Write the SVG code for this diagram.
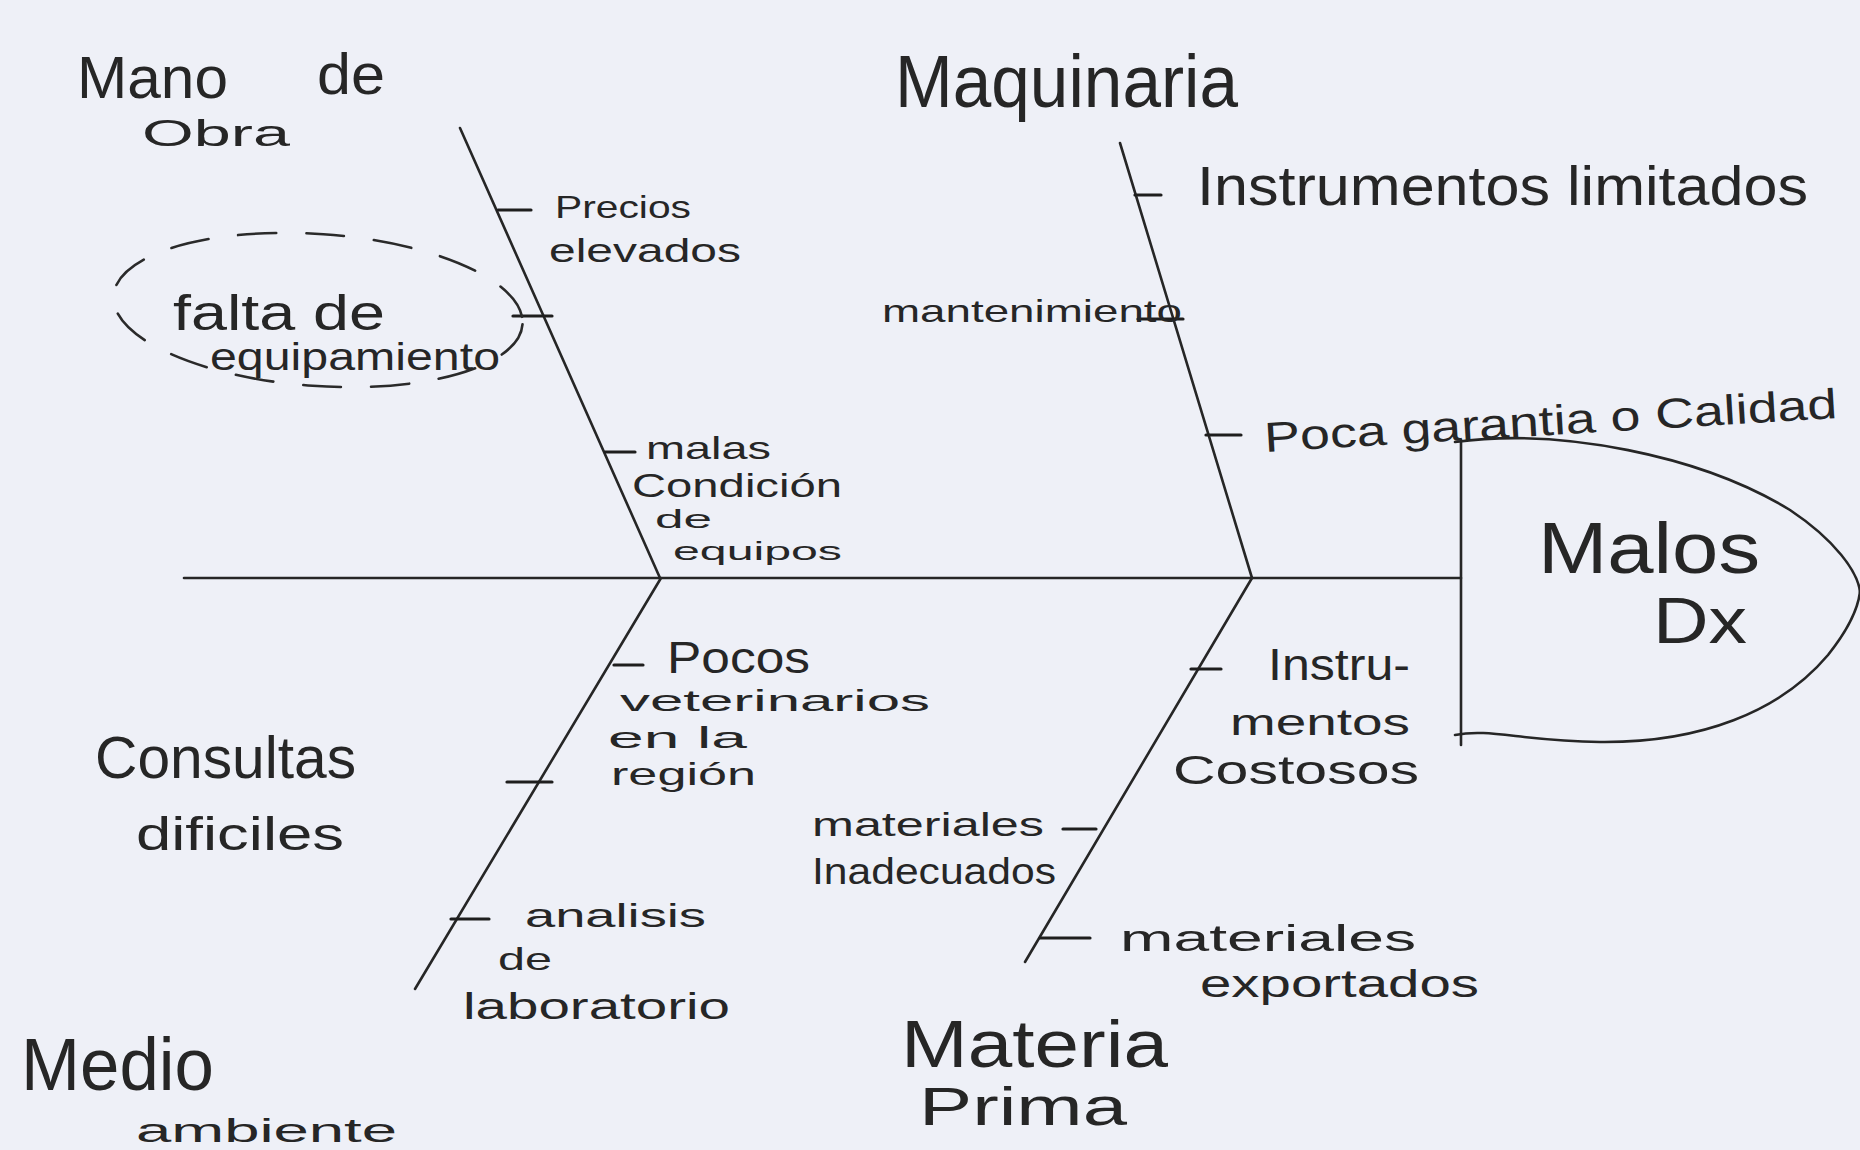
<svg xmlns="http://www.w3.org/2000/svg" width="1860" height="1150" viewBox="0 0 1860 1150">
<style>
.ln{stroke:#262626;stroke-width:2.6;fill:none;stroke-linecap:round}
.tk{stroke:#1e1e1e;stroke-width:3.2;fill:none;stroke-linecap:round}
.t{font-family:"Liberation Sans","DejaVu Sans",sans-serif;fill:#262626;font-weight:normal}
.dash{stroke:#2a2a2a;stroke-width:2.6;fill:none;stroke-dasharray:38 30;stroke-linecap:round}
</style>
<rect width="1860" height="1150" fill="#eef0f7"/>
<g id="connectors">
<line class="ln" x1="184" y1="578" x2="1461" y2="578"/>
<line class="ln" x1="460" y1="128" x2="660" y2="578"/>
<line class="ln" x1="1120" y1="143" x2="1252" y2="578"/>
<line class="ln" x1="661" y1="578" x2="415" y2="989"/>
<line class="ln" x1="1252" y1="578" x2="1025" y2="962"/>
<line class="tk" x1="498" y1="210" x2="531" y2="210"/>
<line class="tk" x1="513" y1="316" x2="552" y2="316"/>
<line class="tk" x1="605" y1="452" x2="635" y2="452"/>
<line class="tk" x1="1135" y1="195" x2="1161" y2="195"/>
<line class="tk" x1="1138" y1="319" x2="1183" y2="319"/>
<line class="tk" x1="1206" y1="435" x2="1241" y2="435"/>
<line class="tk" x1="614" y1="665" x2="643" y2="665"/>
<line class="tk" x1="507" y1="782" x2="552" y2="782"/>
<line class="tk" x1="451" y1="919" x2="489" y2="919"/>
<line class="tk" x1="1191" y1="669" x2="1221" y2="669"/>
<line class="tk" x1="1063" y1="829" x2="1096" y2="829"/>
<line class="tk" x1="1040" y1="938" x2="1090" y2="938"/>
</g>
<g id="head">
<line class="ln" x1="1461" y1="440" x2="1461" y2="745"/>
<path class="ln" d="M1455,442 C1560,428 1700,455 1790,510 C1835,540 1858,572 1860,592"/>
<path class="ln" d="M1455,735 C1490,728 1520,741 1600,742 C1700,743 1780,712 1828,655 C1848,630 1858,608 1860,592"/>
<text class="t" x="1538" y="573" font-size="72" textLength="222" lengthAdjust="spacingAndGlyphs">Malos</text>
<text class="t" x="1653" y="643" font-size="64" textLength="94" lengthAdjust="spacingAndGlyphs">Dx</text>
</g>
<g id="cat-mano-de-obra">
<text class="t" x="77" y="98" font-size="60" textLength="151" lengthAdjust="spacingAndGlyphs">Mano</text>
<text class="t" x="317" y="94" font-size="58" textLength="68" lengthAdjust="spacingAndGlyphs">de</text>
<text class="t" x="142" y="146" font-size="36" textLength="148" lengthAdjust="spacingAndGlyphs">Obra</text>
</g>
<g id="cat-maquinaria">
<text class="t" x="895" y="107" font-size="74" textLength="343" lengthAdjust="spacingAndGlyphs">Maquinaria</text>
</g>
<g id="cat-medio-ambiente">
<text class="t" x="21" y="1090" font-size="74" textLength="193" lengthAdjust="spacingAndGlyphs">Medio</text>
<text class="t" x="136" y="1142" font-size="34" textLength="261" lengthAdjust="spacingAndGlyphs">ambiente</text>
</g>
<g id="cat-materia-prima">
<text class="t" x="901" y="1067" font-size="66" textLength="267" lengthAdjust="spacingAndGlyphs">Materia</text>
<text class="t" x="919" y="1125" font-size="54" textLength="208" lengthAdjust="spacingAndGlyphs">Prima</text>
</g>
<g id="cause-precios">
<text class="t" x="555" y="218" font-size="32" textLength="136" lengthAdjust="spacingAndGlyphs">Precios</text>
<text class="t" x="549" y="262" font-size="34" textLength="192" lengthAdjust="spacingAndGlyphs">elevados</text>
</g>
<g id="cause-falta">
<ellipse class="dash" cx="318" cy="310" rx="205" ry="76" transform="rotate(4 318 310)"/>
<text class="t" x="173" y="330" font-size="50" textLength="212" lengthAdjust="spacingAndGlyphs">falta de</text>
<text class="t" x="210" y="370" font-size="38" textLength="290" lengthAdjust="spacingAndGlyphs">equipamiento</text>
</g>
<g id="cause-malas">
<text class="t" x="646" y="459" font-size="32" textLength="125" lengthAdjust="spacingAndGlyphs">malas</text>
<text class="t" x="632" y="497" font-size="34" textLength="210" lengthAdjust="spacingAndGlyphs">Condición</text>
<text class="t" x="655" y="528" font-size="26" textLength="57" lengthAdjust="spacingAndGlyphs">de</text>
<text class="t" x="673" y="560" font-size="26" textLength="169" lengthAdjust="spacingAndGlyphs">equipos</text>
</g>
<g id="cause-instrumentos-limitados">
<text class="t" x="1197" y="205" font-size="56" textLength="611" lengthAdjust="spacingAndGlyphs">Instrumentos limitados</text>
</g>
<g id="cause-mantenimiento">
<text class="t" x="882" y="322" font-size="32" textLength="300" lengthAdjust="spacingAndGlyphs">mantenimiento</text>
</g>
<g id="cause-poca-garantia">
<text class="t" x="1265" y="452" font-size="42" textLength="574" lengthAdjust="spacingAndGlyphs" transform="rotate(-3.4 1265 452)">Poca garantia o Calidad</text>
</g>
<g id="cause-pocos-veterinarios">
<text class="t" x="667" y="673" font-size="44" textLength="143" lengthAdjust="spacingAndGlyphs">Pocos</text>
<text class="t" x="620" y="711" font-size="30" textLength="310" lengthAdjust="spacingAndGlyphs">veterinarios</text>
<text class="t" x="608" y="748" font-size="30" textLength="139" lengthAdjust="spacingAndGlyphs">en la</text>
<text class="t" x="611" y="785" font-size="32" textLength="145" lengthAdjust="spacingAndGlyphs">región</text>
</g>
<g id="cause-consultas">
<text class="t" x="95" y="778" font-size="60" textLength="261" lengthAdjust="spacingAndGlyphs">Consultas</text>
<text class="t" x="136" y="850" font-size="46" textLength="208" lengthAdjust="spacingAndGlyphs">dificiles</text>
</g>
<g id="cause-analisis">
<text class="t" x="525" y="927" font-size="34" textLength="181" lengthAdjust="spacingAndGlyphs">analisis</text>
<text class="t" x="498" y="970" font-size="32" textLength="54" lengthAdjust="spacingAndGlyphs">de</text>
<text class="t" x="463" y="1019" font-size="36" textLength="267" lengthAdjust="spacingAndGlyphs">laboratorio</text>
</g>
<g id="cause-instrumentos-costosos">
<text class="t" x="1268" y="680" font-size="44" textLength="142" lengthAdjust="spacingAndGlyphs">Instru-</text>
<text class="t" x="1230" y="735" font-size="36" textLength="180" lengthAdjust="spacingAndGlyphs">mentos</text>
<text class="t" x="1173" y="784" font-size="40" textLength="246" lengthAdjust="spacingAndGlyphs">Costosos</text>
</g>
<g id="cause-materiales-inadecuados">
<text class="t" x="812" y="836" font-size="34" textLength="232" lengthAdjust="spacingAndGlyphs">materiales</text>
<text class="t" x="812" y="884" font-size="36" textLength="244" lengthAdjust="spacingAndGlyphs">Inadecuados</text>
</g>
<g id="cause-materiales-exportados">
<text class="t" x="1120" y="951" font-size="36" textLength="296" lengthAdjust="spacingAndGlyphs">materiales</text>
<text class="t" x="1200" y="997" font-size="38" textLength="279" lengthAdjust="spacingAndGlyphs">exportados</text>
</g>
</svg>
